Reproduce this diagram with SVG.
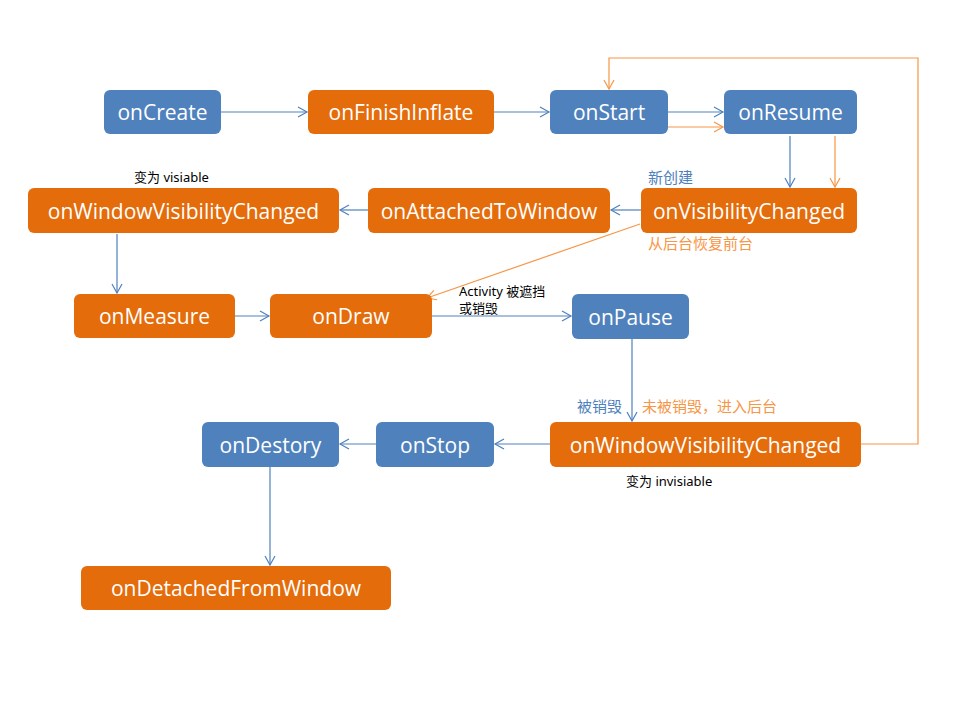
<svg xmlns="http://www.w3.org/2000/svg" width="960" height="720" viewBox="0 0 960 720">
<style>
.b{fill:#4F81BD}
.o{fill:#E46C0A}
.t{fill:#fff;font-family:"Open Sans","Noto Sans",sans-serif;font-size:21px;text-anchor:middle;dominant-baseline:central}
.cb{stroke:#4F81BD;stroke-width:1.2;fill:none}
.co{stroke:#F79646;stroke-width:1.2;fill:none}
.l{font-family:"Noto Sans","Noto Sans CJK SC",sans-serif;font-size:15px;dominant-baseline:central}
.lk{font-family:"Noto Sans","Noto Sans CJK SC",sans-serif;font-size:13px;dominant-baseline:central;fill:#000}
</style>
<defs>
<marker id="ab" markerWidth="12" markerHeight="12" refX="10" refY="6" orient="auto" markerUnits="userSpaceOnUse"><path d="M1,1 L10,6 L1,11" fill="none" stroke="#4F81BD" stroke-width="1.2"/></marker>
<marker id="ao" markerWidth="12" markerHeight="12" refX="10" refY="6" orient="auto" markerUnits="userSpaceOnUse"><path d="M1,1 L10,6 L1,11" fill="none" stroke="#F79646" stroke-width="1.2"/></marker>
</defs>
<rect width="960" height="720" fill="#fff"/>
<g id="connectors">
<line class="cb" x1="221" y1="112" x2="307" y2="112" marker-end="url(#ab)"/>
<line class="cb" x1="494" y1="112" x2="549" y2="112" marker-end="url(#ab)"/>
<line class="cb" x1="668" y1="112" x2="723" y2="112" marker-end="url(#ab)"/>
<line class="co" x1="668" y1="127" x2="723" y2="127" marker-end="url(#ao)"/>
<line class="cb" x1="790" y1="136" x2="790" y2="187" marker-end="url(#ab)"/>
<line class="co" x1="835" y1="136" x2="835" y2="187" marker-end="url(#ao)"/>
<polyline class="co" points="861,444 918,444 918,58 609,58 609,89" marker-end="url(#ao)"/>
<line class="cb" x1="641" y1="210" x2="611" y2="210" marker-end="url(#ab)"/>
<line class="cb" x1="368" y1="210" x2="340" y2="210" marker-end="url(#ab)"/>
<line class="cb" x1="117" y1="234" x2="117" y2="293" marker-end="url(#ab)"/>
<line class="cb" x1="235" y1="316" x2="269" y2="316" marker-end="url(#ab)"/>
<line class="co" x1="640" y1="224" x2="427" y2="298" marker-end="url(#ao)"/>
<line class="cb" x1="432" y1="316" x2="571" y2="316" marker-end="url(#ab)"/>
<line class="cb" x1="632" y1="339" x2="632" y2="421" marker-end="url(#ab)"/>
<line class="cb" x1="550" y1="444" x2="495" y2="444" marker-end="url(#ab)"/>
<line class="cb" x1="376" y1="444" x2="340" y2="444" marker-end="url(#ab)"/>
<line class="cb" x1="270" y1="467" x2="270" y2="565" marker-end="url(#ab)"/>
</g>
<g id="onCreate"><rect class="b" x="104" y="90" width="117" height="44" rx="6"/><text class="t" x="162.5" y="112">onCreate</text></g>
<g id="onFinishInflate"><rect class="o" x="308" y="90" width="186" height="44" rx="6"/><text class="t" x="401" y="112">onFinishInflate</text></g>
<g id="onStart"><rect class="b" x="550" y="90" width="118" height="44" rx="6"/><text class="t" x="609" y="112">onStart</text></g>
<g id="onResume"><rect class="b" x="724" y="90" width="133" height="44" rx="6"/><text class="t" x="790.5" y="112">onResume</text></g>
<g id="onVisibilityChanged"><rect class="o" x="641" y="188" width="216" height="45" rx="6"/><text class="t" x="749" y="210.5">onVisibilityChanged</text></g>
<g id="onAttachedToWindow"><rect class="o" x="368" y="188" width="242" height="45" rx="6"/><text class="t" x="489" y="210.5">onAttachedToWindow</text></g>
<g id="onWindowVisibilityChanged1"><rect class="o" x="28" y="188" width="311" height="45" rx="6"/><text class="t" x="183.5" y="210.5">onWindowVisibilityChanged</text></g>
<g id="onMeasure"><rect class="o" x="74" y="294" width="161" height="44" rx="6"/><text class="t" x="154.5" y="316">onMeasure</text></g>
<g id="onDraw"><rect class="o" x="270" y="294" width="162" height="44" rx="6"/><text class="t" x="351" y="316">onDraw</text></g>
<g id="onPause"><rect class="b" x="572" y="294" width="117" height="45" rx="6"/><text class="t" x="630.5" y="316.5">onPause</text></g>
<g id="onWindowVisibilityChanged2"><rect class="o" x="550" y="422" width="311" height="45" rx="6"/><text class="t" x="705.5" y="444.5">onWindowVisibilityChanged</text></g>
<g id="onStop"><rect class="b" x="376" y="422" width="118" height="45" rx="6"/><text class="t" x="435" y="444.5">onStop</text></g>
<g id="onDestory"><rect class="b" x="202" y="422" width="137" height="45" rx="6"/><text class="t" x="270.5" y="444.5">onDestory</text></g>
<g id="onDetachedFromWindow"><rect class="o" x="81" y="566" width="310" height="44" rx="6"/><text class="t" x="236" y="588">onDetachedFromWindow</text></g>
<g id="labels">
<text class="l" x="648" y="177" fill="#4F81BD">新创建</text>
<text class="l" x="648" y="243" fill="#F79646">从后台恢复前台</text>
<text class="lk" x="134" y="177">变为 visiable</text>
<text class="lk" x="459" y="291" font-size="14">Activity 被遮挡</text>
<text class="lk" x="459" y="308" font-size="14">或销毁</text>
<text class="l" x="577" y="406" fill="#4F81BD">被销毁</text>
<text class="l" x="642" y="406" fill="#F79646">未被销毁，进入后台</text>
<text class="lk" x="626" y="481">变为 invisiable</text>
</g>
</svg>
